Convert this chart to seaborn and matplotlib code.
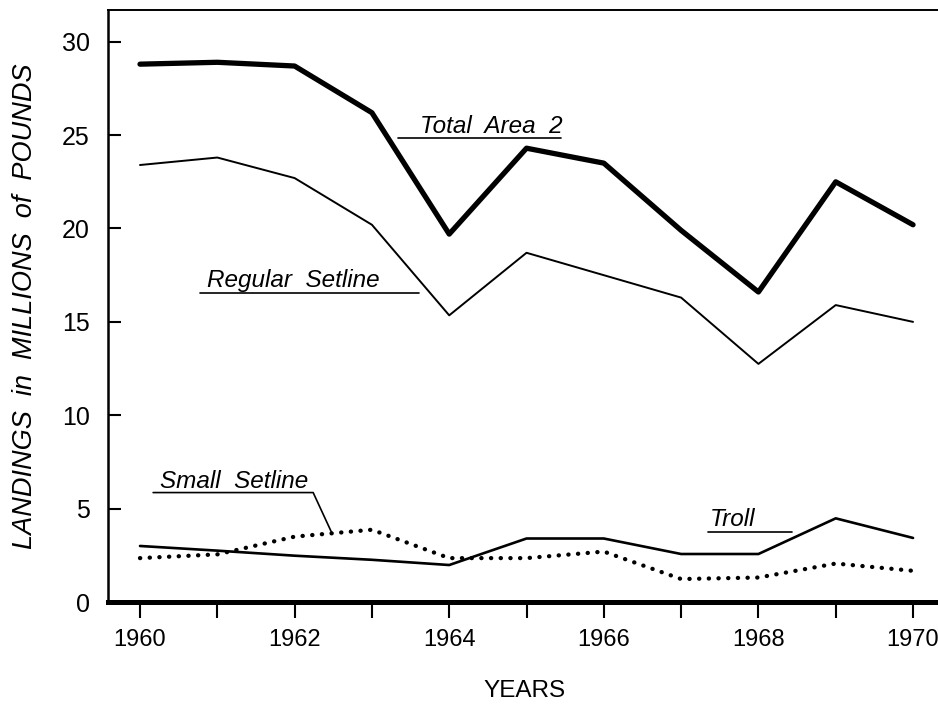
import pandas as pd
import matplotlib
matplotlib.use("Agg")
import matplotlib.pyplot as plt
import seaborn as sns

# datos (millones de libras)
anhos = [1960, 1961, 1962, 1963, 1964, 1965, 1966, 1967, 1968, 1969, 1970]
total_area_2 = [28.8, 28.9, 28.7, 26.2, 19.7, 24.3, 23.5, 19.9, 16.6, 22.5, 20.2]
regular_setline = [23.4, 23.8, 22.7, 20.2, 15.35, 18.7, 17.5, 16.3, 12.75, 15.9, 15.0]
small_setline = [2.35, 2.55, 3.5, 3.87, 2.35, 2.35, 2.7, 1.23, 1.31, 2.06, 1.67]
troll = [3.0, 2.75, 2.48, 2.26, 1.98, 3.4, 3.4, 2.57, 2.57, 4.48, 3.43]

etiquetas_x = ["1960", "", "1962", "", "1964", "", "1966", "", "1968", "", "1970"]
ticks_y = [0, 5, 10, 15, 20, 25, 30]

sns.set_style("ticks", {'axes.edgecolor': 'black', 'xtick.color': 'black',
                        'ytick.color': 'black', 'text.color': 'black',
                        'axes.labelcolor': 'black'})
plt.rcParams['font.family'] = ['Liberation Sans', 'DejaVu Sans']

df = pd.DataFrame({
    'anho': anhos,
    'total': total_area_2,
    'regular': regular_setline,
    'small': small_setline,
    'troll': troll,
})

fig = plt.figure(figsize=(9.38, 7.04), dpi=100)
ax = fig.add_axes([108 / 938, 1 - 602 / 704, 1 - 108 / 938, 592 / 704])

sns.lineplot(data=df, x='anho', y='total', color='black', linewidth=3.8, ax=ax)
sns.lineplot(data=df, x='anho', y='regular', color='black', linewidth=1.4, ax=ax)
sns.lineplot(data=df, x='anho', y='troll', color='black', linewidth=1.9, ax=ax)
sns.lineplot(data=df, x='anho', y='small', color='black', linewidth=3.1,
             linestyle=(0, (0.05, 2.2)), dash_capstyle='round', ax=ax)

# etiquetas de las series con su subrayado
kw = dict(fontsize=17.5, style='italic', color='black', ha='left', va='baseline')
ax.text(1963.62, 25.1, "Total  Area  2", **kw)
ax.plot([1963.34, 1965.45], [24.84, 24.84], color='black', lw=1.2)
ax.text(1960.87, 16.85, "Regular  Setline", **kw)
ax.plot([1960.78, 1963.61], [16.53, 16.53], color='black', lw=1.2)
ax.text(1960.26, 6.12, "Small  Setline", **kw)
ax.plot([1960.17, 1962.24, 1962.48], [5.86, 5.86, 3.71], color='black', lw=1.2)
ax.text(1967.37, 4.09, "Troll", **kw)
ax.plot([1967.35, 1968.43], [3.76, 3.76], color='black', lw=1.2)

ax.set_xlim(1959.586, 1970.323)
ax.set_ylim(0, 31.7)
ax.set_xticks(anhos)
ax.set_xticklabels(etiquetas_x)
ax.set_yticks(ticks_y)
ax.tick_params(axis='x', direction='out', length=11.5, width=1.5, pad=8, labelsize=17)
ax.tick_params(axis='y', direction='in', length=9, width=1.5, pad=13, labelsize=18)

ax.spines['right'].set_visible(False)
ax.spines['left'].set_linewidth(1.8)
ax.spines['top'].set_linewidth(1.4)
ax.spines['bottom'].set_linewidth(3.6)

ax.set_xlabel("YEARS", fontsize=17.5)
ax.xaxis.set_label_coords(0.502, -0.1318)
ax.set_ylabel("LANDINGS  in  MILLIONS  of  POUNDS", fontsize=19.5, style='italic')
ax.yaxis.set_label_coords(-0.084, 0.5)

fig.savefig("out.png", dpi=100)
